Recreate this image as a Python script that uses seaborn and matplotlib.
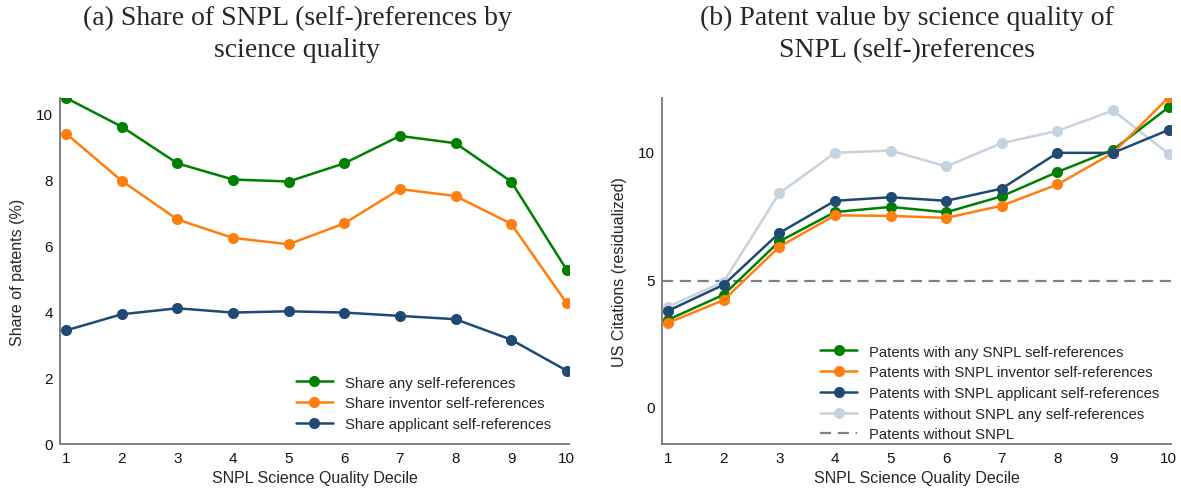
import matplotlib
matplotlib.use("Agg")
import matplotlib.pyplot as plt
import seaborn as sns
import pandas as pd
import numpy as np

deciles = [1, 2, 3, 4, 5, 6, 7, 8, 9, 10]

# Panel (a)
share_any = [10.48, 9.61, 8.50, 8.01, 7.95, 8.50, 9.33, 9.11, 7.95, 5.27]
share_inventor = [9.40, 7.97, 6.80, 6.24, 6.05, 6.68, 7.72, 7.51, 6.67, 4.26]
share_applicant = [3.44, 3.93, 4.11, 3.98, 4.02, 3.98, 3.88, 3.78, 3.16, 2.22]

# Panel (b)
cit_any = [3.41, 4.39, 6.48, 7.63, 7.83, 7.62, 8.25, 9.20, 10.07, 11.74]
cit_inventor = [3.29, 4.18, 6.27, 7.50, 7.48, 7.40, 7.88, 8.71, 9.95, 12.13]
cit_applicant = [3.76, 4.78, 6.81, 8.07, 8.21, 8.07, 8.55, 9.95, 9.95, 10.85]
cit_without_self = [3.92, 4.90, 8.37, 9.95, 10.04, 9.42, 10.33, 10.81, 11.61, 9.91]
cit_without_snpl = 4.94

labels_a = ["Share any self-references", "Share inventor self-references",
            "Share applicant self-references"]
labels_b = ["Patents with any SNPL self-references",
            "Patents with SNPL inventor self-references",
            "Patents with SNPL applicant self-references",
            "Patents without SNPL any self-references"]
label_dash = "Patents without SNPL"

title_a = ["(a) Share of SNPL (self-)references by", "science quality"]
title_b = ["(b) Patent value by science quality of", "SNPL (self-)references"]
xlabel = "SNPL Science Quality Decile"
ylabel_a = "Share of patents (%)"
ylabel_b = "US Citations (residualized)"

green = "#008000"
orange = "#ff7f0e"
navy = "#1f4a73"
light = "#c6d3df"

sns.set_style("white")
plt.rcParams['font.family'] = ['Liberation Sans', 'DejaVu Sans']

fig = plt.figure(figsize=(11.81, 4.89), dpi=100)
axA = fig.add_axes([0.0508, 0.090, 0.431, 0.7076])
axB = fig.add_axes([0.5605, 0.090, 0.431, 0.7076])

dfA = pd.DataFrame({
    "decile": deciles * 3,
    "value": share_any + share_inventor + share_applicant,
    "series": [labels_a[0]] * 10 + [labels_a[1]] * 10 + [labels_a[2]] * 10,
})
sns.lineplot(data=dfA, x="decile", y="value", hue="series", hue_order=labels_a,
             palette=[green, orange, navy], marker="o", markersize=8,
             markeredgewidth=0, linewidth=1.8, ax=axA)

dfB = pd.DataFrame({
    "decile": deciles * 4,
    "value": cit_any + cit_inventor + cit_applicant + cit_without_self,
    "series": sum([[l] * 10 for l in labels_b], []),
})
order_draw = [labels_b[3], labels_b[0], labels_b[1], labels_b[2]]
cols = {labels_b[0]: green, labels_b[1]: orange, labels_b[2]: navy, labels_b[3]: light}
for lab in order_draw:
    sub = dfB[dfB.series == lab]
    sns.lineplot(data=sub, x="decile", y="value", color=cols[lab], marker="o",
                 markersize=8, markeredgewidth=0, linewidth=1.8, ax=axB,
                 label=lab, zorder=3 if lab != labels_b[3] else 2)
axB.axhline(cit_without_snpl, color="#808080", linestyle=(0, (5, 3)),
            linewidth=1.6, label=label_dash, zorder=1)

for ax in (axA, axB):
    sns.despine(ax=ax)
    for s in ("left", "bottom"):
        ax.spines[s].set_color("#808080")
        ax.spines[s].set_linewidth(1.4)
    ax.set_xticks(deciles)
    ax.set_xlim(0.89, 10.04)
    ax.tick_params(axis="both", labelsize=11, length=2, width=0.8,
                   color="#555555", pad=3, labelcolor="#111111")
    ax.set_xlabel(xlabel, fontsize=11.5, labelpad=4)

axA.set_ylim(0, 10.48)
axA.set_yticks([0, 2, 4, 6, 8, 10])
axA.set_ylabel(ylabel_a, fontsize=11.5, labelpad=8)
axB.set_ylim(-1.46, 12.1)
axB.set_yticks([0, 5, 10])
axB.set_ylabel(ylabel_b, fontsize=11.5, labelpad=8)

hA, lA = axA.get_legend_handles_labels()
axA.legend(hA, lA, loc="lower left", bbox_to_anchor=(0.44, 0.003), frameon=False,
           fontsize=10.7, handlelength=2.5, labelspacing=0.45, borderpad=0.3)
hB, lB = axB.get_legend_handles_labels()
want = labels_b + [label_dash]
hmap = dict(zip(lB, hB))
axB.legend([hmap[l] for l in want], want, loc="lower left",
           bbox_to_anchor=(0.287, -0.027), frameon=False, fontsize=10.7,
           handlelength=2.5, labelspacing=0.45, borderpad=0.3)

serif = ["Liberation Serif", "DejaVu Serif"]
for cx, lines in ((297, title_a), (907, title_b)):
    for base_y, txt in zip((25, 57), lines):
        fig.text(cx / 1181, 1 - base_y / 489, txt, ha="center", va="baseline",
                 fontsize=20, family=serif)

fig.savefig("out.png", dpi=100)
